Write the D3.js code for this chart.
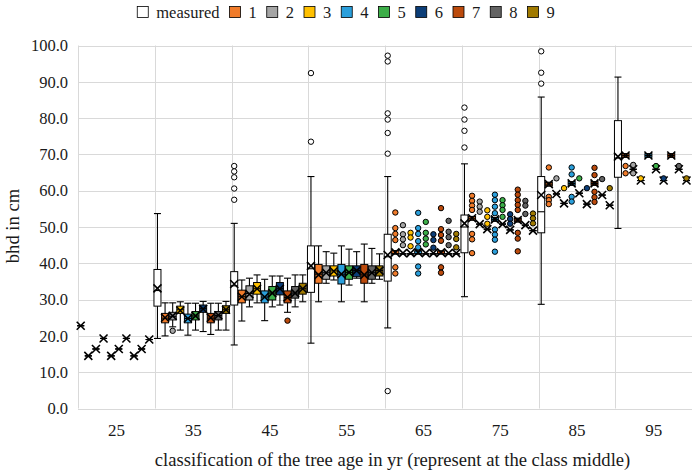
<!DOCTYPE html>
<html><head><meta charset="utf-8">
<script src="https://cdn.jsdelivr.net/npm/d3@7"></script>
<style>
html,body{margin:0;padding:0;background:#fff;}
svg{display:block;}
svg text{font-family:"Liberation Serif","Times New Roman",serif;}
</style></head>
<body><svg id="chart" width="692" height="471"></svg>
<script>
const categories = ["25","35","45","55","65","75","85","95"];
const seriesNames = ["measured","1","2","3","4","5","6","7","8","9"];
const seriesColors = ["#ffffff","#f07b2a","#a5a5a5","#ffc000","#2a9fdc","#3cae48","#0c3e78","#bb4a0c","#636363","#a07a00"];
const yTicks = [0,10,20,30,40,50,60,70,80,90,100];
const xTitle = "classification of the tree age in yr (represent at the class middle)";
const yTitle = "bhd in cm";

// each row: [whiskerLow, q1, median, q3, whiskerHigh, mean] per category
const measuredStats = [
 [22.8,22.8,22.8,22.8,22.8,22.8],
 [19.3,28.2,32.5,38.3,53.7,33.1],
 [17.5,28.5,33.8,37.7,51.0,34.3],
 [18.0,32.0,38.5,44.8,63.9,39.3],
 [22.2,35.1,41.8,48.0,63.9,42.3],
 [30.8,42.9,50.0,53.3,67.4,51.0],
 [28.7,48.4,54.2,63.9,85.8,58.8],
 [49.6,63.7,69.0,79.3,91.3,69.4]
];
const measuredOut = [[],[],[66.8,65.3,63.7,60.6,57.5],[92.4,73.5],[97.2,95.6,81.3,79.6,75.9,70.2,4.8],[82.9,79.6,76.5,71.9],[98.4,92.5,89.5],[]];

const s1Stats = [
 [14.5,14.5,14.5,14.5,14.5,14.5],
 [20.0,23.6,24.9,26.2,29.1,25.0],
 [24.1,29.1,30.8,32.6,35.4,30.8],
 [29.4,34.5,37.0,39.7,44.8,36.8],
 [42.6,42.6,42.6,43.5,43.5,43.0],
 [51.9,51.9,52.4,52.9,52.9,52.4],
 [61.3,61.3,61.8,62.3,62.3,61.8],
 [69.2,69.2,69.7,70.2,70.2,69.7]
];
const s1Out = [[],[],[],[],[54.0,49.7,48.1,46.4,38.9,37.2],[58.6,57.2,55.9,54.7,48.1,46.6,42.8],[66.4,58.3,57.4,56.3],[66.8,64.8]];

const s2Stats = [
 [16.4,16.4,16.4,16.4,16.4,16.4],
 [22.5,24.4,25.4,26.5,29.1,25.5],
 [28.0,29.9,31.7,33.8,35.9,31.5],
 [34.5,35.6,37.4,39.3,43.2,37.4],
 [42.6,42.6,42.6,42.6,42.6,42.8],
 [50.8,50.8,50.8,50.8,50.8,50.8],
 [59.1,59.1,59.1,59.1,59.1,59.1],
 [65.9,65.9,65.9,65.9,65.9,65.9]
];
const s2Out = [[],[21.4],[],[],[50.5,48.0,46.6,45.0],[57.0,55.6,54.2],[63.4],[67.1,64.8]];

const s3Stats = [
 [19.3,19.3,19.3,19.3,19.3,19.3],
 [21.6,26.2,27.2,28.2,29.4,27.0],
 [29.1,31.5,33.0,34.7,36.8,33.0],
 [35.4,36.5,37.9,39.3,42.8,37.8],
 [42.6,42.6,42.6,42.6,42.6,42.8],
 [49.4,49.4,49.4,49.4,49.4,49.4],
 [56.5,56.5,56.5,56.5,56.5,56.5],
 [62.8,62.8,62.8,62.8,62.8,62.8]
];
const s3Out = [[],[],[],[],[48.4,47.1,44.7],[54.6,52.8,50.9],[60.7],[63.4]];

const s4Stats = [
 [14.5,14.5,14.5,14.5,14.5,14.5],
 [20.2,23.6,24.8,26.0,29.0,24.8],
 [24.2,29.1,30.7,32.4,35.6,30.7],
 [29.4,34.3,37.0,39.7,44.8,37.0],
 [42.6,42.6,42.6,43.4,43.4,43.0],
 [51.6,51.6,52.1,52.6,52.6,52.1],
 [61.5,61.5,62.0,62.5,62.5,62.0],
 [69.2,69.2,69.7,70.2,70.2,69.7]
];
const s4Out = [[],[],[],[],[53.9,49.7,48.1,46.1,44.4,39.1,37.2],[58.9,57.4,55.6,53.8,49.3,47.9,46.5,43.2],[66.4,64.5,58.3,57.0],[]];

const s5Stats = [
 [16.4,16.4,16.4,16.4,16.4,16.4],
 [21.6,24.4,25.5,26.7,29.0,25.5],
 [28.0,29.9,31.8,33.6,36.5,31.8],
 [34.0,35.6,37.5,39.3,43.9,37.5],
 [42.6,42.6,42.6,42.6,42.6,42.8],
 [50.8,50.8,50.8,50.8,50.8,50.8],
 [59.3,59.3,59.3,59.3,59.3,59.3],
 [65.9,65.9,65.9,65.9,65.9,65.9]
];
const s5Out = [[],[],[],[],[51.4,48.4,46.8,45.2],[57.4,56.0,54.7,52.8],[63.4],[66.8]];

const s6Stats = [
 [19.3,19.3,19.3,19.3,19.3,19.3],
 [21.2,26.5,27.5,28.5,29.5,27.4],
 [28.5,31.3,33.0,34.7,36.5,33.0],
 [35.9,36.3,38.0,39.3,43.2,38.0],
 [42.6,42.6,42.6,42.6,42.6,42.8],
 [49.2,49.2,49.2,49.2,49.2,49.2],
 [56.3,56.3,56.3,56.3,56.3,56.3],
 [62.8,62.8,62.8,62.8,62.8,62.8]
];
const s6Out = [[],[],[],[],[48.0,46.4,44.3],[53.5,52.2,50.9],[60.7],[63.4]];

const s7Stats = [
 [14.5,14.5,14.5,14.5,14.5,14.5],
 [20.4,23.6,24.9,26.2,29.0,25.0],
 [26.5,29.1,30.6,32.4,35.9,30.6],
 [29.4,34.5,36.8,39.7,45.3,36.8],
 [42.6,42.6,42.6,43.4,43.4,43.0],
 [51.4,51.4,51.9,52.4,52.4,51.9],
 [61.5,61.5,62.0,62.5,62.5,62.0],
 [69.2,69.2,69.7,70.2,70.2,69.7]
];
const s7Out = [[],[],[24.2],[],[55.2,49.4,47.8,46.2,38.9,37.4],[60.3,58.9,57.4,56.1,54.7,48.4,46.8,43.3],[66.3,64.3,59.7,58.2,56.9],[]];

const s8Stats = [
 [16.4,16.4,16.4,16.4,16.4,16.4],
 [21.6,24.4,25.6,26.7,29.0,25.7],
 [28.0,30.4,31.8,33.6,36.8,31.8],
 [34.5,35.6,37.4,39.3,44.1,37.4],
 [42.6,42.6,42.6,42.6,42.6,42.8],
 [50.5,50.5,50.5,50.5,50.5,50.5],
 [58.8,58.8,58.8,58.8,58.8,58.8],
 [65.9,65.9,65.9,65.9,65.9,65.9]
];
const s8Out = [[],[],[],[],[51.7,48.7,47.2,45.0],[57.2,55.9,53.6],[63.2],[66.8]];

const s9Stats = [
 [19.0,19.0,19.0,19.0,19.0,19.0],
 [21.6,26.2,27.2,28.3,29.5,27.2],
 [29.4,31.5,33.0,34.5,36.8,33.0],
 [35.6,36.5,38.0,39.3,42.6,38.0],
 [42.6,42.6,42.6,42.6,42.6,42.8],
 [49.0,49.0,49.0,49.0,49.0,49.0],
 [56.0,56.0,56.0,56.0,56.0,56.0],
 [62.8,62.8,62.8,62.8,62.8,62.8]
];
const s9Out = [[],[],[],[],[48.1,46.7,44.4],[53.7,52.4,51.0],[60.7],[63.4]];

const allStats = [measuredStats,s1Stats,s2Stats,s3Stats,s4Stats,s5Stats,s6Stats,s7Stats,s8Stats,s9Stats];
const allOut = [measuredOut,s1Out,s2Out,s3Out,s4Out,s5Out,s6Out,s7Out,s8Out,s9Out];

const svg = d3.select("#chart");
const plotLeft = 78, plotRight = 692, plotTop = 45.5, plotBottom = 408.5;
const x = d3.scaleBand().domain(categories).range([plotLeft, plotRight]).padding(0);
const sub = d3.scaleBand().domain(seriesNames).range([-1.1, x.bandwidth() - 1.7]).padding(0);
const y = d3.scaleLinear().domain([0, 100]).range([plotBottom, plotTop]);
const gridColor = "#d9d9d9";
const textColor = "#1a1a1a";

// horizontal grid
svg.append("g").selectAll("line").data(yTicks).join("line")
  .attr("x1", plotLeft).attr("x2", plotRight)
  .attr("y1", d => Math.round(y(d)) + 0.5).attr("y2", d => Math.round(y(d)) + 0.5)
  .attr("stroke", gridColor).attr("stroke-width", 1);
// vertical grid
svg.append("g").selectAll("line").data(categories).join("line")
  .attr("x1", d => Math.round(x(d)) + 0.5).attr("x2", d => Math.round(x(d)) + 0.5)
  .attr("y1", plotTop).attr("y2", plotBottom)
  .attr("stroke", gridColor).attr("stroke-width", 1);

// y axis labels
const yAxis = svg.append("g").attr("transform", `translate(${plotLeft},0)`)
  .call(d3.axisLeft(y).tickValues(yTicks).tickFormat(d3.format(".1f")).tickSize(0).tickPadding(10));
yAxis.attr("font-family", null).attr("font-size", null);
yAxis.select(".domain").remove();
yAxis.selectAll("text").style("font-size", "16.5px").attr("fill", textColor);

// x axis labels
const xAxis = svg.append("g").attr("transform", `translate(0,${plotBottom})`)
  .call(d3.axisBottom(x).tickSize(0).tickPadding(15));
xAxis.attr("font-family", null).attr("font-size", null);
xAxis.select(".domain").remove();
xAxis.selectAll("text").style("font-size", "17px").attr("fill", textColor);

// titles
svg.append("text").attr("x", 392.5).attr("y", 466).attr("text-anchor", "middle")
  .style("font-size", "18.6px").attr("fill", textColor).text(xTitle);
svg.append("text").attr("transform", "translate(19,226) rotate(-90)").attr("text-anchor", "middle")
  .style("font-size", "18.6px").attr("fill", textColor).text(yTitle);

// boxes
const bw = 7, cap = 3.5, xs = 4;
const plot = svg.append("g");
seriesNames.forEach((name, si) => {
  const g = plot.append("g");
  const color = seriesColors[si];
  categories.forEach((cat, ci) => {
    const [lo, q1, med, q3, hi, mean] = allStats[si][ci];
    const cx = x(cat) + sub(name) + sub.bandwidth() / 2;
    g.append("line").attr("x1", cx).attr("x2", cx).attr("y1", y(lo)).attr("y2", y(hi))
      .attr("stroke", "#000").attr("stroke-width", 1.1);
    g.append("line").attr("x1", cx - cap).attr("x2", cx + cap).attr("y1", y(lo)).attr("y2", y(lo))
      .attr("stroke", "#000").attr("stroke-width", 1.1);
    g.append("line").attr("x1", cx - cap).attr("x2", cx + cap).attr("y1", y(hi)).attr("y2", y(hi))
      .attr("stroke", "#000").attr("stroke-width", 1.1);
    if (q3 > q1) {
      g.append("rect").attr("x", cx - bw / 2).attr("width", bw)
        .attr("y", y(q3)).attr("height", y(q1) - y(q3))
        .attr("fill", color).attr("stroke", "#000").attr("stroke-width", 1);
    }
    g.append("line").attr("x1", cx - bw / 2).attr("x2", cx + bw / 2).attr("y1", y(med)).attr("y2", y(med))
      .attr("stroke", "#000").attr("stroke-width", 1.1);
    const my = y(mean);
    g.append("path").attr("d", `M${cx - xs},${my - xs}L${cx + xs},${my + xs}M${cx - xs},${my + xs}L${cx + xs},${my - xs}`)
      .attr("stroke", "#000").attr("stroke-width", 1.6).attr("fill", "none");
    allOut[si][ci].forEach(v => {
      g.append("circle").attr("cx", cx).attr("cy", y(v)).attr("r", 2.7)
        .attr("fill", color).attr("stroke", "#000").attr("stroke-width", 1);
    });
  });
});

// legend
const legend = svg.append("g");
let lx = 0;
seriesNames.forEach((name, i) => {
  const item = legend.append("g").attr("transform", `translate(${lx},0)`);
  item.append("rect").attr("x", 0).attr("y", -5.5).attr("width", 11).attr("height", 11)
    .attr("fill", seriesColors[i]).attr("stroke", "#000").attr("stroke-width", 0.8);
  const t = item.append("text").attr("x", 19).attr("y", 5.8).style("font-size", "16.5px")
    .attr("fill", textColor).text(name);
  lx += 19 + t.node().getComputedTextLength() + 10;
});
const lw = lx - 10;
legend.attr("transform", `translate(${346 - lw / 2},12)`);
</script></body></html>
